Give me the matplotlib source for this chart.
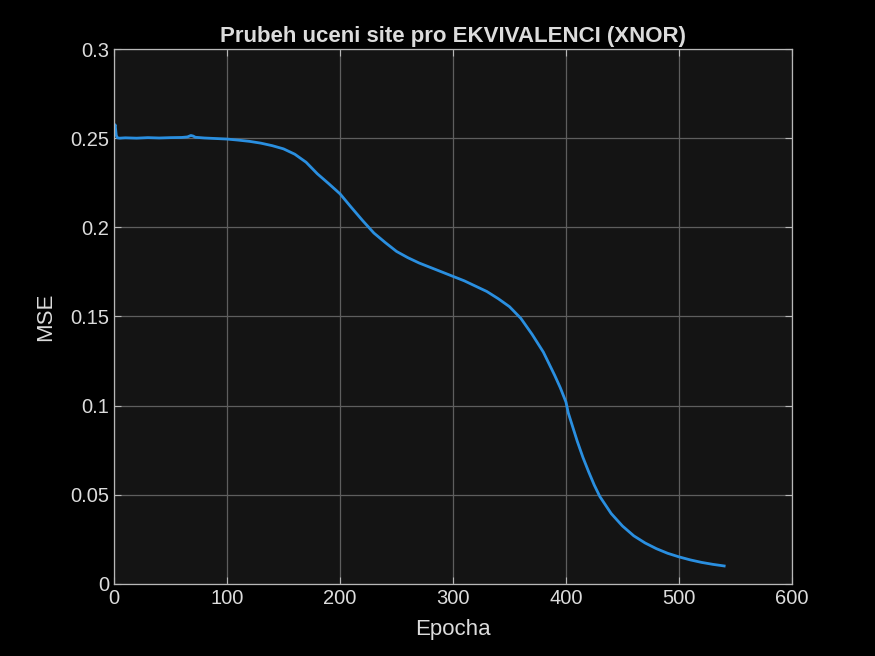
import matplotlib
matplotlib.use("Agg")
import matplotlib.pyplot as plt

# values
epochs = [0, 1, 2, 3, 5, 10, 20, 30, 40, 50, 60, 65, 68, 70, 72, 80, 90, 100,
          110, 120, 130, 140, 150, 160, 170, 180, 190, 200, 210, 220, 230,
          240, 250, 260, 270, 280, 290, 300, 310, 320, 330, 340, 350, 360, 370,
          380, 390, 395, 400, 402, 405, 410, 415, 420, 425, 430, 440, 450, 460,
          470, 480, 490, 500, 510, 520, 530, 540]
mse = [0.2555, 0.2575, 0.2515, 0.2502, 0.2500, 0.2502, 0.2500, 0.2503, 0.2501,
       0.2503, 0.2504, 0.2507, 0.2515, 0.2512, 0.2505, 0.2501, 0.2498, 0.2495,
       0.2489, 0.2482, 0.2472, 0.2458, 0.2440, 0.2410, 0.2365, 0.2300,
       0.2245, 0.2188, 0.2112, 0.2038, 0.1968, 0.1915, 0.1865, 0.1830, 0.1800,
       0.1775, 0.1750, 0.1725, 0.1700, 0.1670, 0.1640, 0.1600, 0.1555, 0.1490,
       0.1400, 0.1300, 0.1170, 0.1100, 0.1020, 0.0960, 0.0900, 0.0800, 0.0710,
       0.0630, 0.0555, 0.0490, 0.0395, 0.0325, 0.0270, 0.0230, 0.0198, 0.0172,
       0.0152, 0.0135, 0.0121, 0.0110, 0.0101]

xticks = [0, 100, 200, 300, 400, 500, 600]
yticks = [0, 0.05, 0.1, 0.15, 0.2, 0.25, 0.3]
yticklabels = ['0', '0.05', '0.1', '0.15', '0.2', '0.25', '0.3']

plt.rcParams['font.family'] = ['Liberation Sans', 'DejaVu Sans']

fig = plt.figure(figsize=(8.75, 6.56), dpi=100, facecolor='black')
ax = fig.add_axes([0.1303, 0.1098, 0.7748, 0.8155])
ax.set_facecolor('#141414')

ax.plot(epochs, mse, color='#2a8fe0', linewidth=2)

ax.set_xlim(0, 600)
ax.set_ylim(0, 0.3)
ax.set_xticks(xticks)
ax.set_yticks(yticks)
ax.set_yticklabels(yticklabels)
ax.grid(True, color='#5e5e5e', linewidth=0.9)
ax.set_axisbelow(True)

for s in ax.spines.values():
    s.set_color('#b8b8b8')
    s.set_linewidth(0.9)
ax.tick_params(direction='in', colors='#b8b8b8', labelcolor='#dcdcdc',
               labelsize=14.5, length=5, top=True, right=True)

ax.set_xlabel('Epocha', color='#dcdcdc', fontsize=16, labelpad=8)
ax.set_ylabel('MSE', color='#dcdcdc', fontsize=16, labelpad=10)
ax.set_title('Prubeh uceni site pro EKVIVALENCI (XNOR)', color='#dcdcdc',
             fontsize=16, fontweight='bold', pad=5)

fig.savefig('out.png', facecolor='black')
